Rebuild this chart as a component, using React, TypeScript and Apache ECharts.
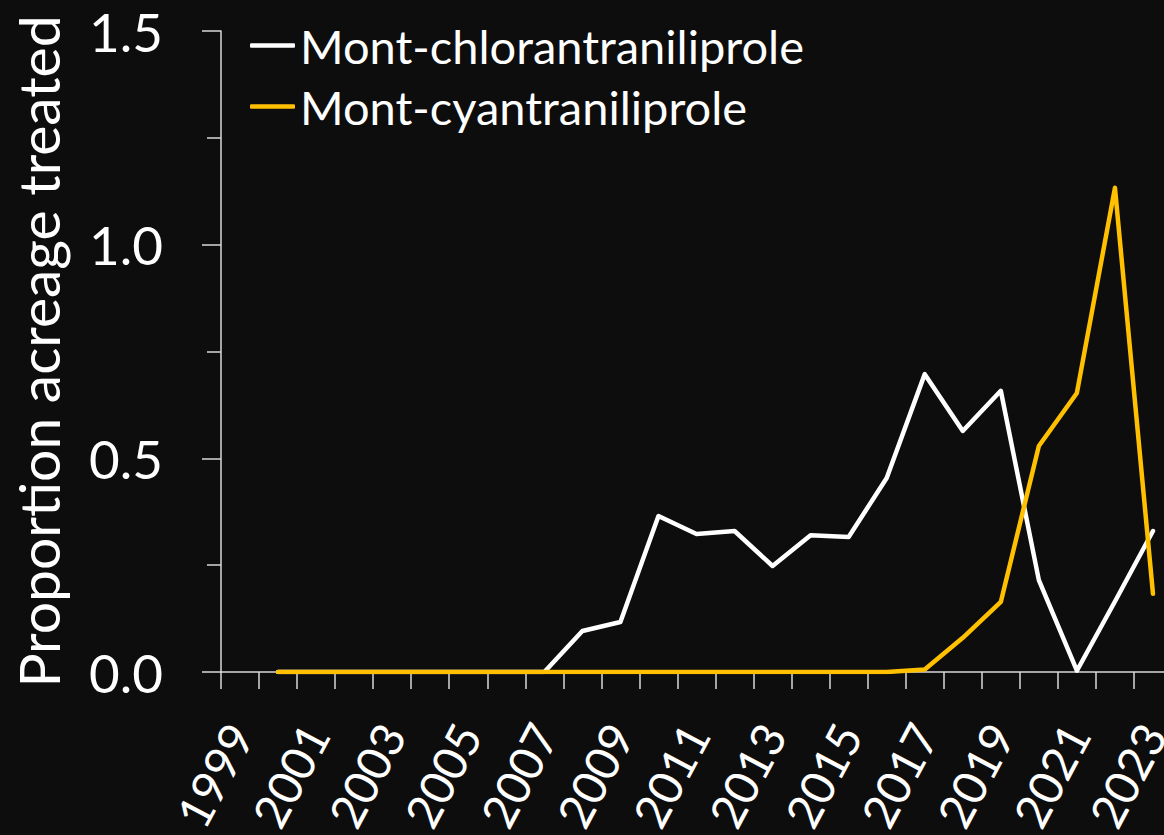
import React, { useEffect, useRef } from "react";
import * as echarts from "echarts";

const years = [
  "1999", "2000", "2001", "2002", "2003", "2004", "2005", "2006", "2007", "2008",
  "2009", "2010", "2011", "2012", "2013", "2014", "2015", "2016", "2017", "2018",
  "2019", "2020", "2021", "2022", "2023",
];

const chlorantraniliprole = [
  null, 0, 0, 0, 0, 0, 0, 0, 0, 0.096,
  0.117, 0.365, 0.323, 0.33, 0.248, 0.32, 0.316, 0.454, 0.697, 0.564,
  0.658, 0.215, 0.003, 0.165, 0.33,
];

const cyantraniliprole = [
  null, 0, 0, 0, 0, 0, 0, 0, 0, 0,
  0, 0, 0, 0, 0, 0, 0, 0, 0.006, 0.08,
  0.164, 0.529, 0.653, 1.133, 0.183,
];

const yTicks = [0, 0.5, 1.0, 1.5];

const FONT = "Lato";
const AXIS = "#d9d9d9";

export default function App() {
  const ref = useRef<HTMLDivElement>(null);
  useEffect(() => {
    if (!ref.current) return;
    const chart = echarts.init(ref.current, null, { renderer: "svg" });
    chart.setOption({
      animation: false,
      backgroundColor: "#0d0d0d",
      textStyle: { fontFamily: FONT },
      grid: { left: 221, top: 31, bottom: 163, right: 8, containLabel: false, outerBoundsMode: "none" },
      legend: {
        left: 245,
        top: 17,
        orient: "vertical",
        itemWidth: 45,
        itemHeight: 4.5,
        itemGap: 14,
        icon: "roundRect",
        textStyle: { color: "#ffffff", fontSize: 47, fontFamily: FONT, lineHeight: 47 },
        data: [
          { name: "Mont-chlorantraniliprole", itemStyle: { color: "#ffffff" } },
          { name: "Mont-cyantraniliprole", itemStyle: { color: "#ffc000" } },
        ],
      },
      xAxis: {
        type: "category",
        data: years,
        boundaryGap: true,
        axisLine: { show: true, lineStyle: { color: AXIS, width: 1.5 } },
        axisTick: { show: true, interval: 0, length: 17, lineStyle: { color: AXIS, width: 1.5 } },
        axisLabel: {
          show: true,
          interval: 1,
          rotate: 62,
          margin: 55,
          color: "#ffffff",
          fontSize: 47,
          fontFamily: FONT,
        },
        splitLine: { show: false },
      },
      yAxis: {
        type: "value",
        min: 0,
        max: 1.5,
        interval: 0.5,
        name: "Proportion acreage treated",
        nameLocation: "middle",
        nameGap: 155,
        nameTextStyle: { color: "#ffffff", fontSize: 57, fontFamily: FONT },
        axisLine: { show: true, lineStyle: { color: AXIS, width: 1.5 } },
        axisTick: { show: true, length: 19, lineStyle: { color: AXIS, width: 1.5 } },
        minorTick: { show: true, splitNumber: 2, length: 14, lineStyle: { color: AXIS, width: 1.5 } },
        splitLine: { show: false },
        minorSplitLine: { show: false },
        axisLabel: {
          color: "#ffffff",
          fontSize: 53,
          fontFamily: FONT,
          margin: 58,
          formatter: (v: number) => (yTicks.includes(v) ? v.toFixed(1) : ""),
        },
      },
      series: [
        {
          name: "Mont-chlorantraniliprole",
          type: "line",
          data: chlorantraniliprole,
          showSymbol: false,
          symbol: "none",
          lineStyle: { color: "#ffffff", width: 4.5, cap: "round", join: "round" },
          itemStyle: { color: "#ffffff" },
        },
        {
          name: "Mont-cyantraniliprole",
          type: "line",
          data: cyantraniliprole,
          showSymbol: false,
          symbol: "none",
          lineStyle: { color: "#ffc000", width: 4.5, cap: "round", join: "round" },
          itemStyle: { color: "#ffc000" },
        },
      ],
    });
    return () => chart.dispose();
  }, []);
  return (
    <div style={{ position: "fixed", left: 0, top: 0, width: 1164, height: 835, overflow: "hidden", background: "#0d0d0d" }}>
      <div ref={ref} style={{ width: 1180, height: 835 }} />
    </div>
  );
}
